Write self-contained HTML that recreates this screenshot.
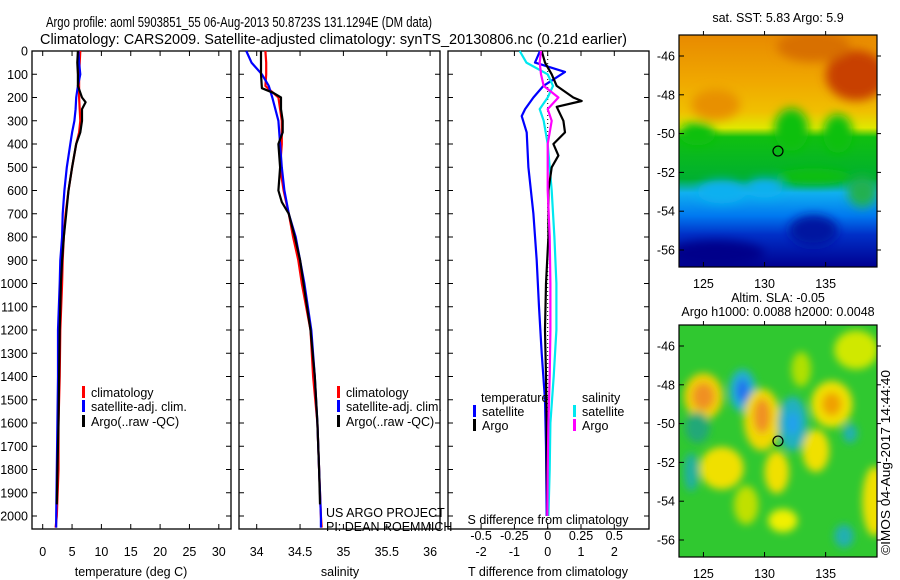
<!DOCTYPE html>
<html><head><meta charset="utf-8">
<style>
html,body{margin:0;padding:0;background:#fff;}
svg{display:block;font-family:"Liberation Sans",sans-serif;}
text{font-size:12.5px;fill:#000;}
</style></head>
<body>
<svg id="chart" width="900" height="580" viewBox="0 0 900 580" xmlns="http://www.w3.org/2000/svg">
<defs>
<filter id="blur1" x="-50%" y="-50%" width="200%" height="200%"><feGaussianBlur stdDeviation="5"/></filter>
<filter id="blur2" x="-50%" y="-50%" width="200%" height="200%"><feGaussianBlur stdDeviation="4"/></filter>
<linearGradient id="sstg" x1="0" y1="0" x2="0" y2="1">
<stop offset="0" stop-color="#e88a00"/><stop offset="0.2" stop-color="#f0a800"/>
<stop offset="0.33" stop-color="#f0c000"/><stop offset="0.40" stop-color="#e0e800"/>
<stop offset="0.44" stop-color="#10c010"/><stop offset="0.62" stop-color="#00b030"/>
<stop offset="0.68" stop-color="#10b0f0"/><stop offset="0.78" stop-color="#0078f0"/>
<stop offset="0.86" stop-color="#0030c8"/><stop offset="1" stop-color="#000090"/>
</linearGradient>
<clipPath id="clipTop"><rect x="679" y="35" width="198" height="232"/></clipPath>
<clipPath id="clipBot"><rect x="679" y="325" width="198" height="232"/></clipPath>
</defs>
<text x="46" y="27" textLength="386" lengthAdjust="spacingAndGlyphs" style="font-size:14.5px">Argo profile: aoml 5903851_55 06-Aug-2013 50.8723S 131.1294E (DM data)</text>
<text x="40" y="44" textLength="587" lengthAdjust="spacingAndGlyphs" style="font-size:14.5px">Climatology: CARS2009. Satellite-adjusted climatology: synTS_20130806.nc (0.21d earlier)</text>
<g id="panels"></g>
<g id="maps"></g>
<text transform="translate(890,555) rotate(-90)" x="0" y="0" textLength="185" lengthAdjust="spacingAndGlyphs">©IMOS 04-Aug-2017 14:44:40</text>
</svg>
<script>
// ---- data ----
const tDepth = [0,50,100,150,200,250,300,350,400,500,600,700,800,900,1000,1200,1400,1600,1800,2000,2050];
const tClim  = [6.4,6.3,6.2,6.2,6.2,6.3,6.4,6.2,5.7,5.0,4.4,3.9,3.6,3.4,3.3,3.0,2.9,2.7,2.7,2.4,2.2];
const tSat   = [6.1,6.2,6.4,6.0,5.7,5.6,5.4,5.0,4.7,4.1,3.7,3.4,3.3,3.0,2.9,2.6,2.6,2.5,2.4,2.3,2.3];
const argoDepth = [0,50,100,150,200,220,250,300,350,400,500,600,700,800,900,1000,1200,1400,1600,1800,1950];
const tArgo  = [6.0,5.9,6.0,6.0,6.7,7.3,6.7,6.7,6.4,5.7,5.0,4.4,4.0,3.6,3.3,3.1,2.9,2.8,2.7,2.5,2.4];
const sDepth = [0,50,100,150,200,300,400,500,600,700,800,900,1000,1200,1400,1600,1800,2000,2050];
const sClim  = [34.10,34.11,34.11,34.10,34.25,34.29,34.29,34.27,34.31,34.37,34.42,34.48,34.52,34.62,34.65,34.70,34.72,34.74,34.75];
const sSat   = [33.88,33.94,34.06,34.14,34.18,34.25,34.27,34.29,34.32,34.37,34.45,34.50,34.55,34.63,34.67,34.70,34.72,34.74,34.74];
const sArgoDepth = [0,100,160,180,200,250,300,350,400,500,600,650,700,800,900,1000,1200,1400,1600,1800,1950];
const sArgo  = [34.05,34.05,34.06,34.19,34.28,34.28,34.30,34.30,34.25,34.27,34.25,34.29,34.37,34.44,34.50,34.54,34.62,34.67,34.70,34.72,34.73];
const dDepth = [0,50,90,150,200,250,280,350,500,700,900,1100,1300,1500,1700,2000];
const dTSat  = [-0.23,-0.38,0.52,-0.13,-0.43,-0.68,-0.78,-0.63,-0.58,-0.43,-0.33,-0.26,-0.18,-0.08,-0.05,-0.03];
const dADepth = [0,50,100,150,200,215,240,300,350,400,450,500,600,800,1000,1200,1400,1600,1800,2000];
const dTArgo = [-0.18,-0.08,0.12,0.27,0.77,1.02,0.27,0.47,0.52,0.17,0.32,0.12,0.02,0.02,-0.05,-0.08,-0.05,-0.03,-0.03,-0.01];
const dSDepth = [0,50,100,150,200,250,300,400,600,800,1000,1200,1400,1600,1800,2000];
const dSSat  = [-0.21,-0.16,0.0,0.04,0.0,-0.06,-0.03,0.0,0.03,0.05,0.065,0.065,0.045,0.02,0.015,0.005];
const dSArgo = [-0.05,-0.06,-0.05,-0.03,0.08,0.0,0.03,0.0,0.0,0.015,0.02,0.02,0.015,0.005,0.0,-0.003];
const depthTicks = [0,100,200,300,400,500,600,700,800,900,1000,1100,1200,1300,1400,1500,1600,1700,1800,1900,2000];
const tempTicks = [0,5,10,15,20,25,30];
const salTicks = [34,34.5,35,35.5,36];
const tDiffTicks = [-2,-1,0,1,2];
const sDiffTicks = [-0.5,-0.25,0,0.25,0.5];
const sDiffLabels = ['-0.5','-0.25','0','0.25','0.5'];
const lonTicks = [125,130,135];
const latTicks = [-46,-48,-50,-52,-54,-56];
const floatLon = 131.1, floatLat = -50.9;

const NS='http://www.w3.org/2000/svg';
function mk(tag, attrs, parent){const e=document.createElementNS(NS,tag);for(const k in attrs)e.setAttribute(k,attrs[k]);(parent||document.getElementById('panels')).appendChild(e);return e;}
const Y0=51, PY=23.25;
const yD = d => Y0 + d/100*PY;
const BOT=529;
const xT = v => 42.7 + v*5.87;
const xS = v => 256.7 + (v-34)*86.7;
const xDT = v => 547.7 + v*33.3;
const xDS = v => 547.7 + v*133.2;

function frame(x0,x1,name,labels){
  const g=mk('g',{});
  
  
  mk('rect',{x:x0,y:Y0,width:x1-x0,height:BOT-Y0,fill:'none',stroke:'#000','stroke-width':1.3},g);
  depthTicks.forEach(d=>{
    mk('line',{x1:x0,x2:x0+5,y1:yD(d),y2:yD(d),stroke:'#000'},g);
    mk('line',{x1:x1,x2:x1-5,y1:yD(d),y2:yD(d),stroke:'#000'},g);
    if(labels){const t=mk('text',{x:x0-4,y:yD(d)+4.5,'text-anchor':'end'},g);t.textContent=d;
      }
  });
  return g;
}
function xticks(g,vals,fx,labs,ty){
  vals.forEach((v,i)=>{const x=fx(v);
    mk('line',{x1:x,x2:x,y1:BOT,y2:BOT-5,stroke:'#000'},g);
    mk('line',{x1:x,x2:x,y1:Y0,y2:Y0+5,stroke:'#000'},g);
    const t=mk('text',{x:x,y:ty,'text-anchor':'middle'},g);t.textContent=labs?labs[i]:v;
    });
}
function line(xs,ds,fx,col,name,w){
  const p=xs.map((v,i)=>(i?'L':'M')+fx(v).toFixed(1)+','+yD(ds[i]).toFixed(1)).join('');
  const e=mk('path',{d:p,fill:'none',stroke:col,'stroke-width':w||2.2,'stroke-linejoin':'round'});
  
}
function txt(x,y,s,name,anchor){const t=mk('text',{x:x,y:y,'text-anchor':anchor||'start'});t.textContent=s;
  return t;}
function legend(x,y,col,s,name){const g=mk('g',{});
  mk('rect',{x:x,y:y-11,width:3,height:12,fill:col},g);const t=mk('text',{x:x+9,y:y},g);t.textContent=s;}

// panel 1
let g1=frame(32,231,'temperature-panel',true);
xticks(g1,tempTicks,xT,null,556);
txt(131,576,'temperature (deg C)','temperature-axis-title','middle');
line(tClim,tDepth,xT,'#ff0000','temp-climatology-line');
line(tSat,tDepth,xT,'#0000ff','temp-satellite-line');
line(tArgo,argoDepth,xT,'#000000','temp-argo-line');
legend(82,397,'#ff0000','climatology','legend-climatology');
legend(82,411,'#0000ff','satellite-adj. clim.','legend-satellite');
legend(82,426,'#000000','Argo(..raw -QC)','legend-argo');

// panel 2
let g2=frame(239,440,'salinity-panel',false);
xticks(g2,salTicks,xS,null,556);
txt(340,576,'salinity','salinity-axis-title','middle');
line(sClim,sDepth,xS,'#ff0000','sal-climatology-line');
line(sSat,sDepth,xS,'#0000ff','sal-satellite-line');
line(sArgo,sArgoDepth,xS,'#000000','sal-argo-line');
legend(337,397,'#ff0000','climatology','legend-climatology-2');
legend(337,411,'#0000ff','satellite-adj. clim.','legend-satellite-2');
legend(337,426,'#000000','Argo(..raw -QC)','legend-argo-2');
txt(326,517,'US ARGO PROJECT','project-credit');
txt(326,531,'PI: DEAN ROEMMICH','pi-credit');

// panel 3
let g3=frame(448,649,'difference-panel',false);
xticks(g3,tDiffTicks,xDT,null,556);
sDiffTicks.forEach((v,i)=>{txt(xDS(v),540,sDiffLabels[i],'s-diff-tick-label','middle');});
txt(548,524,'S difference from climatology','s-diff-axis-title','middle');
txt(548,576,'T difference from climatology','t-diff-axis-title','middle');
mk('line',{x1:xDT(0),x2:xDT(0),y1:Y0,y2:BOT,stroke:'#000','stroke-dasharray':'1,3','stroke-width':1});
line(dTSat,dDepth,xDT,'#0000ff','tdiff-satellite-line');
line(dSSat,dSDepth,xDS,'#00e8f0','sdiff-satellite-line');
line(dTArgo,dADepth,xDT,'#000000','tdiff-argo-line');
line(dSArgo,dSDepth,xDS,'#ff00ff','sdiff-argo-line');
txt(481,402,'temperature','legend-temperature-header');
txt(582,402,'salinity','legend-salinity-header');
legend(473,416,'#0000ff','satellite','legend-t-satellite');
legend(473,430,'#000000','Argo','legend-t-argo');
legend(573,416,'#00e8f0','satellite','legend-s-satellite');
legend(573,430,'#ff00ff','Argo','legend-s-argo');

// maps
const M=document.getElementById('maps');
const xL = lon => 679 + (lon-123)*12.22;
function mapFrame(top,name){
  const g=mk('g',{},M);
  const yL = lat => top + 21 + (-46-lat)*19.4;
  return {g,yL};
}
function axes(g,top,yL){
  mk('rect',{x:679,y:top,width:198,height:232,fill:'none',stroke:'#000','stroke-width':1.2},g);
  lonTicks.forEach(v=>{mk('line',{x1:xL(v),x2:xL(v),y1:top+232,y2:top+227,stroke:'#000'},g);
    mk('line',{x1:xL(v),x2:xL(v),y1:top,y2:top-4,stroke:'#000'},g);
    const t=mk('text',{x:xL(v),y:top+253,'text-anchor':'middle'},g);t.textContent=v;});
  latTicks.forEach(v=>{mk('line',{x1:679,x2:684,y1:yL(v),y2:yL(v),stroke:'#000'},g);
    mk('line',{x1:877,x2:881,y1:yL(v),y2:yL(v),stroke:'#000'},g);
    const t=mk('text',{x:675,y:yL(v)+4.5,'text-anchor':'end'},g);t.textContent=v;});
  mk('circle',{cx:xL(floatLon),cy:yL(floatLat),r:5,fill:'none',stroke:'#000','stroke-width':1.2},g);
}
let a=mapFrame(35,'sst-map');
let cl=mk('g',{'clip-path':'url(#clipTop)'},a.g);
mk('rect',{x:679,y:35,width:198,height:232,fill:'url(#sstg)'},cl);
const bl=mk('g',{filter:'url(#blur1)'},cl);
const sstBlobs=[[137.5,-47,2.5,1.3,'#c84000'],[134,-45.5,3,0.8,'#d87000'],[126,-48.5,2,0.8,'#e89000'],
 [132.2,-49.8,1.4,1.1,'#10c010'],[136,-50,1.2,1.0,'#10c010'],[124.5,-50,1.5,0.6,'#10c010'],
 [126.5,-53,2,0.6,'#10b0f0'],[134,-55,2,0.8,'#0018a0'],[126,-56.2,4,0.7,'#00008a'],[134,-52.2,3,0.4,'#10c010'],
 [130,-52.8,1.5,0.5,'#10b0f0'],[138,-53,1.2,0.8,'#20b050']];
sstBlobs.forEach(b=>mk('ellipse',{cx:xL(b[0]),cy:a.yL(b[1]),rx:b[2]*12.2,ry:b[3]*19.4,fill:b[4]},bl));
axes(a.g,35,a.yL);
txt(778,22,'sat. SST: 5.83 Argo: 5.9','sst-map-title','middle');
let b=mapFrame(325,'sla-map');
let cl2=mk('g',{'clip-path':'url(#clipBot)'},b.g);
mk('rect',{x:679,y:325,width:198,height:232,fill:'#30c830'},cl2);
const bl2=mk('g',{filter:'url(#blur2)'},cl2);
const slaBlobs=[[125,-48.6,1.6,1.2,'#f0d000'],[125,-48.6,0.9,0.7,'#f09020'],[128.2,-48.3,1.1,1.1,'#20b0d0'],[128.2,-48.3,0.5,0.6,'#2070f0'],
 [129.8,-49.8,1.5,1.6,'#f0d800'],[129.8,-49.6,0.7,0.9,'#f09020'],[132.3,-50,1.2,1.4,'#20b0c0'],[132.3,-50,0.5,0.6,'#20a0f0'],
 [135.5,-49,1.7,1.2,'#f0e000'],[135.5,-49,0.8,0.6,'#f0a000'],[134.2,-51.4,1.1,1.1,'#f0e000'],[126.5,-52.3,1.8,1.1,'#f0e000'],
 [131,-52.5,1,1.1,'#f0e000'],[131.5,-55,1.2,0.6,'#f0f000'],[128.5,-54.2,1,1,'#c0e000'],[139,-54,1,1.8,'#f0e000'],
 [137.5,-46.2,1.8,1,'#d0e800'],[133,-47.2,0.8,0.9,'#b0e000'],[124,-52.5,0.6,1,'#20b0a0'],[136.5,-55.8,0.8,0.6,'#20b0b0'],
 [137,-50.5,0.6,0.5,'#20b0b0'],[124.5,-50.2,1,0.8,'#20a878']];
slaBlobs.forEach(s=>mk('ellipse',{cx:xL(s[0]),cy:b.yL(s[1]),rx:s[2]*12.2,ry:s[3]*19.4,fill:s[4]},bl2));
axes(b.g,325,b.yL);
txt(778,302,'Altim. SLA: -0.05','sla-map-title','middle');
txt(778,316,'Argo h1000: 0.0088 h2000: 0.0048','sla-map-subtitle','middle');
</script>
</body></html>
